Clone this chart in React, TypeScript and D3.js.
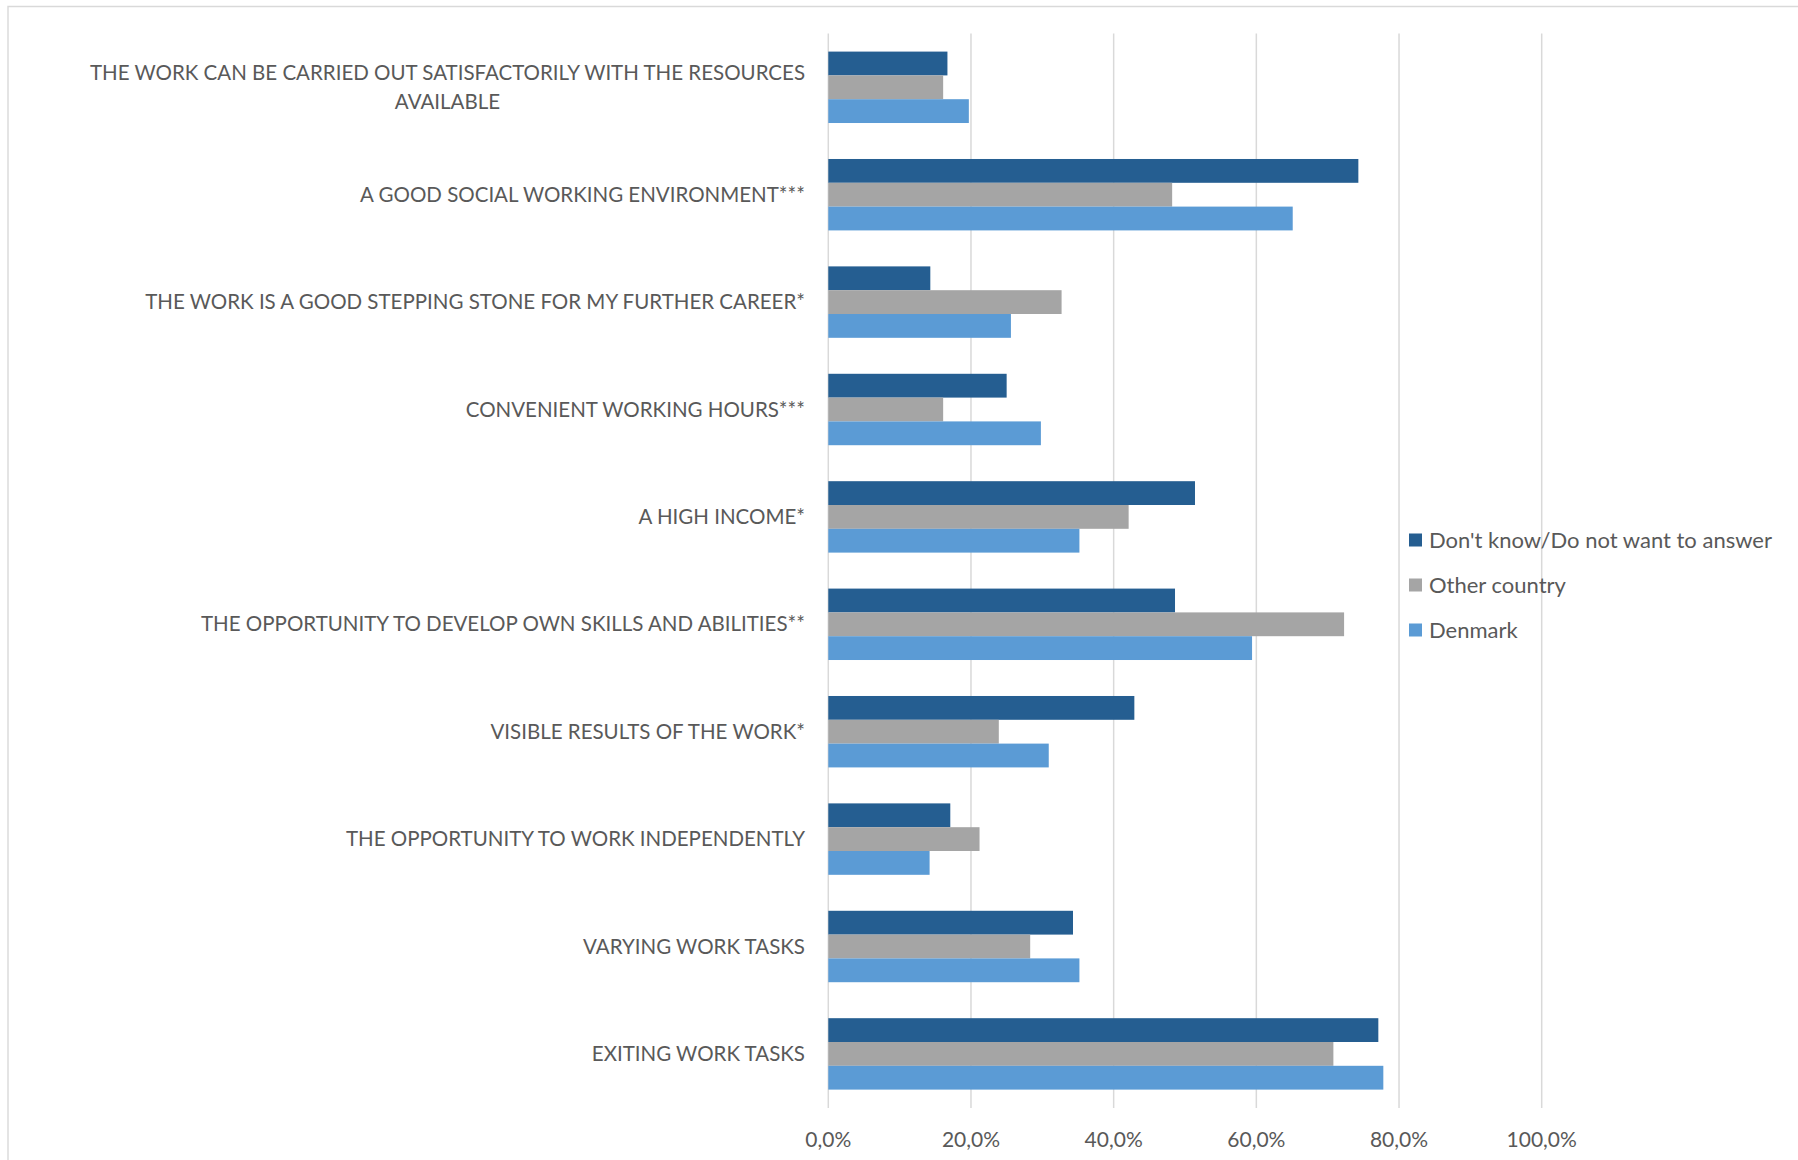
import React, { useEffect, useRef } from "react";
import * as d3 from "d3";

const categories = [
  "THE WORK CAN BE CARRIED OUT SATISFACTORILY WITH THE RESOURCES|AVAILABLE",
  "A GOOD SOCIAL WORKING ENVIRONMENT***",
  "THE WORK IS A GOOD STEPPING STONE FOR MY FURTHER CAREER*",
  "CONVENIENT WORKING HOURS***",
  "A HIGH INCOME*",
  "THE OPPORTUNITY TO DEVELOP OWN SKILLS AND ABILITIES**",
  "VISIBLE RESULTS OF THE WORK*",
  "THE OPPORTUNITY TO WORK INDEPENDENTLY",
  "VARYING WORK TASKS",
  "EXITING WORK TASKS",
];

const seriesNames = ["Don't know/Do not want to answer", "Other country", "Denmark"];
const dontKnow = [16.7, 74.3, 14.3, 25.0, 51.4, 48.6, 42.9, 17.1, 34.3, 77.1];
const otherCountry = [16.1, 48.2, 32.7, 16.1, 42.1, 72.3, 23.9, 21.2, 28.3, 70.8];
const denmark = [19.7, 65.1, 25.6, 29.8, 35.2, 59.4, 30.9, 14.2, 35.2, 77.8];
const seriesColors = ["#255E91", "#A5A5A5", "#5B9BD5"];
const xTicks = [0, 20, 40, 60, 80, 100];

const W = 1798;
const H = 1160;
const FONT = "Lato, 'Open Sans', sans-serif";
const TEXT = "#595959";

export default function App() {
  const ref = useRef<SVGSVGElement | null>(null);

  useEffect(() => {
    const svg = d3.select(ref.current);
    svg.selectAll("*").remove();

    const x = d3.scaleLinear().domain([0, 100]).range([828.3, 1541.7]);
    const y = d3
      .scaleBand<string>()
      .domain(categories)
      .range([33.6, 1107.6])
      .paddingInner(0.335)
      .paddingOuter(0.1675);
    const sub = d3
      .scaleBand<number>()
      .domain([0, 1, 2])
      .range([0, y.bandwidth()])
      .padding(0);
    const series = [dontKnow, otherCountry, denmark];

    // frame
    svg
      .append("path")
      .attr("d", `M8,${H + 2}V6.5H${W + 2}`)
      .attr("fill", "none")
      .attr("stroke", "#D9D9D9")
      .attr("stroke-width", 1.4);

    // gridlines
    svg
      .append("g")
      .selectAll("line")
      .data(xTicks)
      .join("line")
      .attr("x1", (d) => x(d))
      .attr("x2", (d) => x(d))
      .attr("y1", 33.6)
      .attr("y2", 1108)
      .attr("stroke", "#D9D9D9")
      .attr("stroke-width", 1.5);

    // bars
    const g = svg.append("g");
    series.forEach((vals, si) => {
      g.append("g")
        .selectAll("rect")
        .data(vals)
        .join("rect")
        .attr("x", x(0))
        .attr("y", (_, i) => (y(categories[i]) as number) + (sub(si) as number))
        .attr("width", (d) => x(d) - x(0))
        .attr("height", sub.bandwidth())
        .attr("fill", seriesColors[si]);
    });

    // tick labels
    svg
      .append("g")
      .selectAll("text")
      .data(xTicks)
      .join("text")
      .attr("x", (d) => x(d))
      .attr("y", 1147)
      .attr("text-anchor", "middle")
      .attr("font-family", FONT)
      .attr("font-size", 21)
      .attr("fill", TEXT)
      .text((d) => d3.format(".1f")(d).replace(".", ",") + "%");

    // category labels
    const labelX = 805;
    const lineH = 29;
    const LS = 20.5;
    categories.forEach((c) => {
      const lines = c.split("|");
      const cy = (y(c) as number) + y.bandwidth() / 2;
      const t0 = cy - ((lines.length - 1) * lineH) / 2 + 7;
      const first = svg
        .append("text")
        .attr("x", labelX)
        .attr("y", t0)
        .attr("text-anchor", "end")
        .attr("font-family", FONT)
        .attr("font-size", LS)
        .attr("fill", TEXT)
        .text(lines[0]);
      if (lines.length > 1) {
        const w = (first.node() as SVGTextElement).getComputedTextLength();
        for (let k = 1; k < lines.length; k++) {
          svg
            .append("text")
            .attr("x", labelX - w / 2)
            .attr("y", t0 + k * lineH)
            .attr("text-anchor", "middle")
            .attr("font-family", FONT)
            .attr("font-size", LS)
            .attr("fill", TEXT)
            .text(lines[k]);
        }
      }
    });

    // legend
    const lg = svg.append("g");
    seriesNames.forEach((name, i) => {
      const cy = 540 + i * 45;
      lg.append("rect")
        .attr("x", 1409)
        .attr("y", cy - 6.5)
        .attr("width", 13)
        .attr("height", 13)
        .attr("fill", seriesColors[i]);
      lg.append("text")
        .attr("x", 1429)
        .attr("y", cy + 7.5)
        .attr("font-family", FONT)
        .attr("font-size", 22)
        .attr("fill", TEXT)
        .text(name);
    });
  }, []);

  return (
    <svg
      ref={ref}
      width={W}
      height={H}
      style={{ position: "absolute", left: 0, top: 0, background: "#fff" }}
    />
  );
}
